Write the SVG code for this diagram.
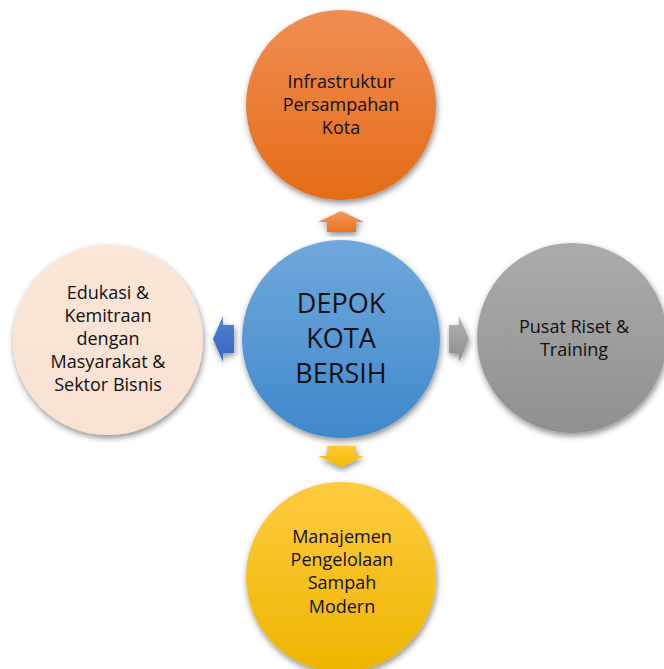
<svg xmlns="http://www.w3.org/2000/svg" width="664" height="669" viewBox="0 0 664 669">
<defs>
<linearGradient id="gOr" x1="0" y1="0" x2="0" y2="1"><stop offset="0" stop-color="#F18D52"/><stop offset="1" stop-color="#E46C17"/></linearGradient>
<linearGradient id="gBl" x1="0" y1="0" x2="0" y2="1"><stop offset="0" stop-color="#70A8DC"/><stop offset="1" stop-color="#3F88CB"/></linearGradient>
<linearGradient id="gGr" x1="0" y1="0" x2="0" y2="1"><stop offset="0" stop-color="#ABABAB"/><stop offset="1" stop-color="#909090"/></linearGradient>
<linearGradient id="gYe" x1="0" y1="0" x2="0" y2="1"><stop offset="0" stop-color="#FFCB3E"/><stop offset="1" stop-color="#EDB500"/></linearGradient>
<linearGradient id="gPe" x1="0" y1="0" x2="0" y2="1"><stop offset="0" stop-color="#FBE6D8"/><stop offset="1" stop-color="#F9E1D2"/></linearGradient>
<linearGradient id="aOr" x1="0" y1="0" x2="0" y2="1"><stop offset="0" stop-color="#F59A5E"/><stop offset="1" stop-color="#E8741F"/></linearGradient>
<linearGradient id="aBl" x1="0" y1="0" x2="0" y2="1"><stop offset="0" stop-color="#5282D6"/><stop offset="1" stop-color="#3366C0"/></linearGradient>
<linearGradient id="aGr" x1="0" y1="0" x2="0" y2="1"><stop offset="0" stop-color="#B3B3B3"/><stop offset="1" stop-color="#8C8C8C"/></linearGradient>
<linearGradient id="aYe" x1="0" y1="0" x2="0" y2="1"><stop offset="0" stop-color="#FFCC33"/><stop offset="1" stop-color="#F5B800"/></linearGradient>
<filter id="sh" x="-20%" y="-20%" width="140%" height="140%">
<feGaussianBlur in="SourceAlpha" stdDeviation="3"/>
<feOffset dx="1" dy="3" result="b"/>
<feComponentTransfer><feFuncA type="linear" slope="0.45"/></feComponentTransfer>
<feMerge><feMergeNode/><feMergeNode in="SourceGraphic"/></feMerge>
</filter>
</defs>
<style>
text{font-family:"Open Sans","Noto Sans",sans-serif;fill:#111;text-anchor:middle}
.t{font-size:18px}
.c{font-size:27px}
</style>
<g id="connectors">
<polygon points="341,211 364,222 356,222 356,232 327,232 327,222 318,222" fill="url(#aOr)" filter="url(#sh)"/>
<polygon points="327,446 356,446 356,456 364,456 341,467 318,456 327,456" fill="url(#aYe)" filter="url(#sh)"/>
<polygon points="213,339 223,316 223,325 234,325 234,353 223,353 223,362" fill="url(#aBl)" filter="url(#sh)"/>
<polygon points="449,325 459,325 459,316 469,339 459,362 459,353 449,353" fill="url(#aGr)" filter="url(#sh)"/>
</g>
<g id="node-top">
<circle cx="341" cy="105" r="95" fill="url(#gOr)" filter="url(#sh)"/>
<text class="t" x="341" y="88">Infrastruktur</text>
<text class="t" x="341" y="111">Persampahan</text>
<text class="t" x="341" y="134">Kota</text>
</g>
<g id="node-left">
<circle cx="108" cy="340" r="95" fill="url(#gPe)" filter="url(#sh)"/>
<text class="t" x="108" y="299">Edukasi &amp;</text>
<text class="t" x="108" y="322">Kemitraan</text>
<text class="t" x="108" y="345">dengan</text>
<text class="t" x="108" y="368">Masyarakat &amp;</text>
<text class="t" x="108" y="391">Sektor Bisnis</text>
</g>
<g id="node-right">
<circle cx="572" cy="338" r="95" fill="url(#gGr)" filter="url(#sh)"/>
<text class="t" x="574" y="333">Pusat Riset &amp;</text>
<text class="t" x="574" y="356">Training</text>
</g>
<g id="node-bottom">
<circle cx="341" cy="577" r="95" fill="url(#gYe)" filter="url(#sh)"/>
<text class="t" x="342" y="543">Manajemen</text>
<text class="t" x="342" y="566">Pengelolaan</text>
<text class="t" x="342" y="589">Sampah</text>
<text class="t" x="342" y="613">Modern</text>
</g>
<g id="node-center">
<circle cx="341" cy="339" r="99" fill="url(#gBl)" filter="url(#sh)"/>
<text class="c" x="341" y="313">DEPOK</text>
<text class="c" x="341" y="348">KOTA</text>
<text class="c" x="341" y="383">BERSIH</text>
</g>
</svg>
